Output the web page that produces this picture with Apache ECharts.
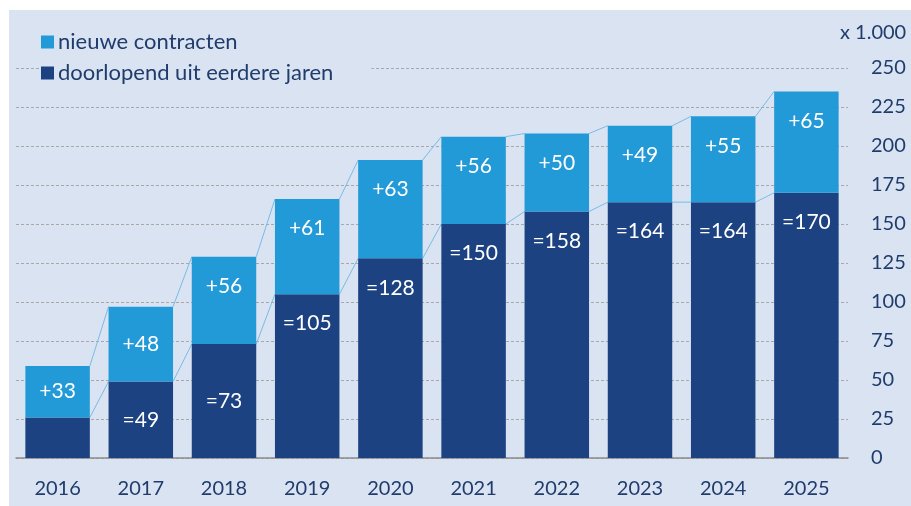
<!DOCTYPE html>
<html>
<head>
<meta charset="utf-8">
<script src="https://cdn.jsdelivr.net/npm/echarts@6/dist/echarts.min.js"></script>
<style>
  html, body { margin: 0; padding: 0; background: #fff; }
  #main { width: 911px; height: 506px; }
</style>
</head>
<body>
<div id="main"></div>
<script>
// data
const years = ['2016', '2017', '2018', '2019', '2020', '2021', '2022', '2023', '2024', '2025'];
const doorlopend = [26, 49, 73, 105, 128, 150, 158, 164, 164, 170];
const nieuwe = [33, 48, 56, 61, 63, 56, 50, 49, 55, 65];
const yTicks = [0, 250, 25];

const darkBlue = '#1c4282';
const lightBlue = '#239ad8';
const textBlue = '#1f3c6b';
const barRatio = 0.775;

const totals = years.map((y, i) => doorlopend[i] + nieuwe[i]);

// connector data: i, total i, total i+1, dark i, dark i+1
const connectors = [];
for (let i = 0; i < years.length - 1; i++) {
  connectors.push([i, totals[i], totals[i + 1], doorlopend[i], doorlopend[i + 1]]);
}

// label centered for low segments, near the top for tall ones
function segLabel(top, text) {
  if (top < 100) {
    return { show: true, position: 'inside', formatter: text };
  }
  return { show: true, position: 'insideTop', distance: 19, formatter: text };
}

const chart = echarts.init(document.getElementById('main'));
chart.setOption({
  backgroundColor: '#fff',
  animation: false,
  textStyle: { fontFamily: 'Lato' },
  graphic: [
    { type: 'rect', z: -10, shape: { x: 9, y: 10, width: 902, height: 496 }, style: { fill: '#dae3f2' } },
    { type: 'text', left: 840, top: 23, style: { text: 'x 1.000', fill: textBlue, font: '20px Lato' } }
  ],
  legend: {
    orient: 'vertical',
    left: 41,
    top: 29,
    padding: [2, 38, 4, 0],
    backgroundColor: '#dae3f2',
    itemWidth: 13,
    itemHeight: 13,
    itemGap: 9,
    icon: 'rect',
    data: ['nieuwe contracten', 'doorlopend uit eerdere jaren'],
    textStyle: { color: textBlue, fontSize: 22, fontFamily: 'Lato', padding: [0, 0, 0, -1] }
  },
  grid: { left: 16, right: 63, top: 68, bottom: 48 },
  xAxis: {
    type: 'category',
    data: years,
    axisLine: { lineStyle: { color: '#8c8c8c', width: 1.5 } },
    axisTick: { show: false },
    axisLabel: { color: textBlue, fontSize: 20, margin: 21 }
  },
  yAxis: {
    type: 'value',
    position: 'right',
    min: yTicks[0],
    max: yTicks[1],
    interval: yTicks[2],
    axisLine: { show: false },
    axisTick: { show: false },
    axisLabel: { color: textBlue, fontSize: 20, margin: 23, align: 'left' },
    splitLine: { lineStyle: { color: '#a8a8a8', type: [3, 2], width: 1 } }
  },
  series: [
    {
      name: 'doorlopend uit eerdere jaren',
      type: 'bar',
      stack: 'tot',
      barWidth: (barRatio * 100) + '%',
      itemStyle: { color: darkBlue },
      label: { color: '#fff', fontSize: 21 },
      data: doorlopend.map((v, i) => ({
        value: v,
        label: i === 0 ? { show: false } : segLabel(v, '=' + v)
      }))
    },
    {
      name: 'nieuwe contracten',
      type: 'bar',
      stack: 'tot',
      itemStyle: { color: lightBlue },
      label: { color: '#fff', fontSize: 21 },
      data: nieuwe.map((v, i) => ({
        value: v,
        label: segLabel(totals[i], '+' + v)
      }))
    },
    {
      type: 'custom',
      z: 1,
      silent: true,
      renderItem: function (params, api) {
        const i = api.value(0);
        const half = api.size([1, 0])[0] * barRatio / 2;
        const a1 = api.coord([i, api.value(1)]);
        const a2 = api.coord([i + 1, api.value(2)]);
        const b1 = api.coord([i, api.value(3)]);
        const b2 = api.coord([i + 1, api.value(4)]);
        const st = { stroke: '#78bce6', lineWidth: 1 };
        return {
          type: 'group',
          children: [
            { type: 'line', shape: { x1: a1[0] + half, y1: a1[1], x2: a2[0] - half, y2: a2[1] }, style: st },
            { type: 'line', shape: { x1: b1[0] + half, y1: b1[1], x2: b2[0] - half, y2: b2[1] }, style: st }
          ]
        };
      },
      data: connectors
    }
  ]
});
</script>
</body>
</html>
